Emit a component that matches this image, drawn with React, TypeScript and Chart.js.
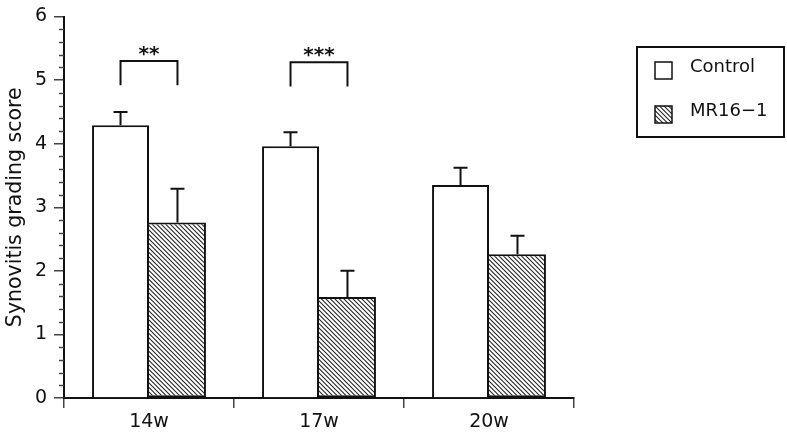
import React, { useEffect, useRef } from 'react';
import { Chart, registerables } from 'chart.js';

Chart.register(...registerables);

const categories = ['14w', '17w', '20w'];
const seriesLabels = ['Control', 'MR16\u22121'];
const controlValues = [4.29, 3.96, 3.35];
const controlErrors = [0.21, 0.22, 0.27];
const mr16Values = [2.76, 1.59, 2.26];
const mr16Errors = [0.53, 0.41, 0.29];
const significance = ['**', '***', ''];
const bracketTop = [5.3, 5.28, 0];
const bracketBottom = [4.92, 4.9, 0];
const yMin = 0;
const yMax = 6;
const yMajorStep = 1;
const yMinorStep = 0.2;

const FONT = '"DejaVu Sans", "Noto Sans", sans-serif';

function makeHatch(): CanvasPattern | string {
  const s = 9;
  const c = document.createElement('canvas');
  c.width = s;
  c.height = s;
  const ctx = c.getContext('2d');
  if (!ctx) return '#888';
  ctx.fillStyle = '#ffffff';
  ctx.fillRect(0, 0, s, s);
  ctx.strokeStyle = '#222';
  ctx.lineWidth = 1.05;
  ctx.beginPath();
  for (let k = -3; k <= 3; k++) {
    const off = k * (s / 2);
    ctx.moveTo(off - 2, -2);
    ctx.lineTo(off + s + 2, s + 2);
  }
  ctx.stroke();
  const p = ctx.createPattern(c, 'repeat');
  return p || '#888';
}

export default function App() {
  const ref = useRef<HTMLCanvasElement | null>(null);

  useEffect(() => {
    if (!ref.current) return;
    const hatch = makeHatch();

    const overlay = {
      id: 'overlay',
      afterDatasetsDraw(chart: any) {
        const ctx = chart.ctx as CanvasRenderingContext2D;
        const y = chart.scales.y;
        const area = chart.chartArea;
        ctx.save();
        ctx.strokeStyle = '#111';
        ctx.lineWidth = 2;
        ctx.lineCap = 'butt';
        const groups: [number[], number[], number][] = [
          [controlValues, controlErrors, 0],
          [mr16Values, mr16Errors, 1],
        ];
        groups.forEach(([vals, errs, di]) => {
          const meta = chart.getDatasetMeta(di);
          meta.data.forEach((bar: any, i: number) => {
            const cx = bar.x;
            const yTop = y.getPixelForValue(vals[i]);
            const yErr = y.getPixelForValue(vals[i] + errs[i]);
            ctx.beginPath();
            ctx.moveTo(cx, yTop);
            ctx.lineTo(cx, yErr);
            ctx.moveTo(cx - 7, yErr);
            ctx.lineTo(cx + 7, yErr);
            ctx.stroke();
          });
        });
        // significance brackets
        const m0 = chart.getDatasetMeta(0);
        const m1 = chart.getDatasetMeta(1);
        significance.forEach((s, i) => {
          if (!s) return;
          const x0 = m0.data[i].x;
          const x1 = m1.data[i].x;
          const yt = y.getPixelForValue(bracketTop[i]);
          const yb = y.getPixelForValue(bracketBottom[i]);
          ctx.beginPath();
          ctx.moveTo(x0, yb);
          ctx.lineTo(x0, yt);
          ctx.lineTo(x1, yt);
          ctx.lineTo(x1, yb);
          ctx.stroke();
          ctx.fillStyle = '#111';
          ctx.font = 'bold 20px ' + FONT;
          ctx.textAlign = 'center';
          ctx.textBaseline = 'alphabetic';
          ctx.fillText(s, (x0 + x1) / 2, yt - 1);
        });
        // minor ticks on y axis
        ctx.strokeStyle = '#444';
        ctx.lineWidth = 1.5;
        const n = Math.round((yMax - yMin) / yMinorStep);
        for (let k = 0; k <= n; k++) {
          const v = yMin + k * yMinorStep;
          if (Math.abs(v - Math.round(v)) < 1e-6) continue;
          const py = Math.round(y.getPixelForValue(v)) + 0.5;
          ctx.beginPath();
          ctx.moveTo(area.left - 5, py);
          ctx.lineTo(area.left, py);
          ctx.stroke();
        }
        // legend
        const lx = area.right + 63;
        const ly = 47;
        ctx.strokeStyle = '#111';
        ctx.lineWidth = 2;
        ctx.strokeRect(lx, ly, 147, 90);
        const fills: (string | CanvasPattern)[] = ['#ffffff', hatch];
        seriesLabels.forEach((lab, i) => {
          const sy = ly + 15 + i * 44;
          ctx.fillStyle = fills[i] as any;
          ctx.fillRect(lx + 18, sy, 17, 17);
          ctx.lineWidth = 1.5;
          ctx.strokeRect(lx + 18, sy, 17, 17);
          ctx.fillStyle = '#111';
          ctx.font = '18px ' + FONT;
          ctx.textAlign = 'left';
          ctx.textBaseline = 'alphabetic';
          ctx.fillText(lab, lx + 53, sy + 10);
        });
        ctx.restore();
      },
    };

    const chart = new Chart(ref.current, {
      type: 'bar',
      data: {
        labels: categories,
        datasets: [
          {
            label: seriesLabels[0],
            data: controlValues,
            backgroundColor: '#ffffff',
            borderColor: '#111',
            borderWidth: 2,
            borderSkipped: 'bottom',
          },
          {
            label: seriesLabels[1],
            data: mr16Values,
            backgroundColor: hatch as any,
            borderColor: '#111',
            borderWidth: 2,
            borderSkipped: 'left',
          },
        ],
      },
      options: {
        animation: false,
        responsive: true,
        maintainAspectRatio: false,
        datasets: { bar: { categoryPercentage: 0.67, barPercentage: 1 } },
        layout: { padding: { top: 10, right: 213, left: 0, bottom: 0 } },
        plugins: {
          legend: { display: false },
          tooltip: { enabled: false },
        },
        scales: {
          x: {
            offset: true,
            grid: {
              offset: true,
              drawOnChartArea: false,
              drawTicks: true,
              tickLength: 10,
              color: '#444',
              lineWidth: 1.5,
            },
            border: { display: true, color: '#111', width: 2 },
            ticks: {
              color: '#111',
              font: { family: FONT, size: 19 },
              padding: 3,
            },
            afterFit(scale: any) {
              scale.height = 35;
            },
          },
          y: {
            min: yMin,
            max: yMax,
            grid: {
              drawOnChartArea: false,
              drawTicks: true,
              tickLength: 10,
              color: '#444',
              lineWidth: 1.5,
            },
            border: { display: true, color: '#111', width: 2 },
            ticks: {
              stepSize: yMajorStep,
              color: '#111',
              font: { family: FONT, size: 19, lineHeight: 1 },
              padding: 7,
            },
            title: {
              display: true,
              text: 'Synovitis grading score',
              color: '#111',
              font: { family: FONT, size: 20.5 },
              padding: { top: 3, bottom: 0 },
            },
            afterFit(scale: any) {
              scale.width = 64;
            },
          },
        },
      },
      plugins: [overlay],
    });
    return () => chart.destroy();
  }, []);

  return (
    <div style={{ position: 'absolute', left: 0, top: 0, width: 787, height: 433, background: '#fff' }}>
      <canvas ref={ref} />
    </div>
  );
}
